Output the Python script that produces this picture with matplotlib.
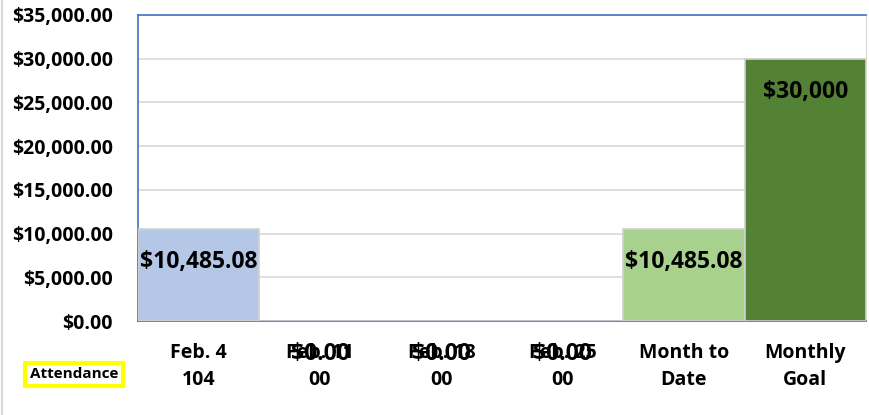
import matplotlib.pyplot as plt

plt.rcParams['font.family'] = ['Open Sans', 'DejaVu Sans']

categories = ["Feb. 4\n104", "Feb. 11\n00", "Feb. 18\n00", "Feb. 25\n00",
              "Month to\nDate", "Monthly\nGoal"]
values = [10485.08, 0, 0, 0, 10485.08, 30000]
labels = ["$10,485.08", "$0.00", "$0.00", "$0.00", "$10,485.08", "$30,000"]
colors = ["#B4C7E7", "#B4C7E7", "#B4C7E7", "#B4C7E7", "#A9D18E", "#548235"]

fig = plt.figure(figsize=(8.7, 4.15), dpi=100)
ax = fig.add_axes([0.1586, 0.2265, 0.8368, 0.7374])

x = range(len(categories))
ax.bar(x, values, width=1.0, color=colors, edgecolor="#D0D0D0", linewidth=1.2, zorder=3)

# data labels sit just inside the bar end (Excel "inside end")
for i, (v, lab) in enumerate(zip(values, labels)):
    ax.annotate(lab, xy=(i, v), xytext=(0, -23.8), textcoords="offset points",
                ha="center", va="center", fontsize=16.5, fontweight="bold",
                color="black", zorder=5, annotation_clip=False)

ax.set_xlim(-0.5, len(categories) - 0.5)
ax.set_ylim(0, 35000)
ax.set_yticks(range(0, 35001, 5000))
ax.set_yticklabels([f"${t:,.2f}" for t in range(0, 35001, 5000)])
ax.set_xticks(list(x))
ax.set_xticklabels(categories, linespacing=1.45)

ax.tick_params(axis="both", length=0)
ax.tick_params(axis="x", pad=16, labelsize=14)
ax.tick_params(axis="y", pad=18, labelsize=14)
for t in ax.get_xticklabels() + ax.get_yticklabels():
    t.set_fontweight("bold")

ax.grid(axis="y", color="#D9D9D9", linewidth=1.2, zorder=0)
ax.set_axisbelow(True)

for side in ["left", "top", "bottom"]:
    ax.spines[side].set_color("#4472C4")
    ax.spines[side].set_linewidth(1.2)
ax.spines["right"].set_color("#D9D9D9")

# attendance box
fig.text(0.0851, 0.0976, "Attendance", ha="center", va="center", fontsize=11,
         fontweight="bold",
         bbox=dict(boxstyle="square,pad=0.3", facecolor="white",
                   edgecolor="#FFFF00", linewidth=3))

fig.add_artist(plt.Line2D([0.002, 0.002], [0, 1], color="#D9D9D9", linewidth=1.5))

fig.savefig("out.png", dpi=100)
